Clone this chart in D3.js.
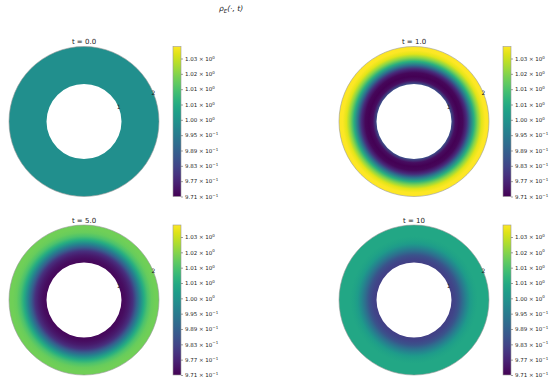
<!DOCTYPE html>
<html><head><meta charset="utf-8">
<script src="https://cdn.jsdelivr.net/npm/d3@7"></script>
<style>body{margin:0;background:#fff}svg{display:block;font-family:"DejaVu Sans",sans-serif}</style>
</head><body>
<svg id="c" width="550" height="385"></svg>
<script>
// ---- data ----
const panelTitles = ["t = 0.0", "t = 1.0", "t = 5.0", "t = 10"];
const radii = [1.0, 1.1, 1.2, 1.3, 1.4, 1.5, 1.6, 1.7, 1.8, 1.9, 2.0];
const rhoT0  = [1.000, 1.000, 1.000, 1.000, 1.000, 1.000, 1.000, 1.000, 1.000, 1.000, 1.000];
const rhoT1  = [0.985, 0.973, 0.971, 0.972, 0.978, 0.993, 1.008, 1.019, 1.027, 1.030, 1.030];
const rhoT5  = [0.972, 0.973, 0.975, 0.979, 0.988, 0.998, 1.007, 1.013, 1.016, 1.017, 1.017];
const rhoT10 = [0.982, 0.983, 0.986, 0.992, 0.998, 1.003, 1.005, 1.006, 1.006, 1.006, 1.006];
const colorMin = 0.971, colorMax = 1.0297;
const tickValues = [0.971, 0.977, 0.983, 0.989, 0.995, 1.001, 1.007, 1.013, 1.019, 1.025];
const tickMantissa = ["9.71", "9.77", "9.83", "9.89", "9.95", "1.00", "1.01", "1.01", "1.02", "1.03"];
const tickExponent = ["\u22121", "\u22121", "\u22121", "\u22121", "\u22121", "0", "0", "0", "0", "0"];
const radialTicks = [1, 2];

const series = [rhoT0, rhoT1, rhoT5, rhoT10];
const centers = [[84, 121.5], [414, 121.5], [84, 300], [414, 300]];

const svg = d3.select("#c");
const defs = svg.append("defs");
const color = d3.scaleSequential(d3.interpolateViridis).domain([colorMin, colorMax]).clamp(true);
const R = 75;
const rScale = d3.scaleLinear().domain([0, 2]).range([0, R]);

// suptitle
const st = svg.append("text").attr("x", 231).attr("y", 11).attr("text-anchor", "middle")
  .attr("font-size", 7.5).attr("font-style", "italic").attr("fill", "#222");
st.append("tspan").text("\u03C1");
st.append("tspan").attr("font-size", 5.5).attr("dy", 1.8).text("E");
st.append("tspan").attr("dy", -1.8).text("(\u00B7, t)");

// colorbar gradient (shared)
const cg = defs.append("linearGradient").attr("id", "cbar").attr("x1", 0).attr("y1", 1).attr("x2", 0).attr("y2", 0);
d3.range(0, 1.0001, 0.05).forEach(f => cg.append("stop").attr("offset", f).attr("stop-color", d3.interpolateViridis(f)));

series.forEach((vals, i) => {
  const [cx, cy] = centers[i];
  const g = svg.append("g").attr("transform", `translate(${cx},${cy})`);
  const gid = "rg" + i;
  const rg = defs.append("radialGradient").attr("id", gid)
    .attr("gradientUnits", "userSpaceOnUse").attr("cx", 0).attr("cy", 0).attr("r", rScale(2));
  radii.forEach((r, k) => rg.append("stop").attr("offset", rScale(r) / rScale(2)).attr("stop-color", color(vals[k])));
  const arc = d3.arc().innerRadius(rScale(1)).outerRadius(rScale(2)).startAngle(0).endAngle(2 * Math.PI);
  g.append("path").attr("d", arc()).attr("fill", `url(#${gid})`);
  g.append("circle").attr("r", rScale(2)).attr("fill", "none").attr("stroke", "#999").attr("stroke-width", 0.6);
  // radial tick labels
  const ang = 22.5 * Math.PI / 180;
  radialTicks.forEach(t => {
    g.append("text").attr("x", rScale(t) * Math.cos(ang)).attr("y", -rScale(t) * Math.sin(ang))
      .attr("font-size", 6).attr("text-anchor", "middle").attr("dy", "0.35em").attr("fill", "#222").text(t);
  });
  // title
  svg.append("text").attr("x", cx).attr("y", cy - R - 2.5).attr("text-anchor", "middle")
    .attr("font-size", 7).attr("fill", "#222").text(panelTitles[i]);
  // colorbar
  const bx = cx + 89, bw = 8;
  const y = d3.scaleLinear().domain([colorMin, colorMax]).range([cy + R, cy - R]);
  svg.append("rect").attr("x", bx).attr("y", cy - R).attr("width", bw).attr("height", 2 * R)
    .attr("fill", "url(#cbar)").attr("stroke", "#999").attr("stroke-width", 0.6);
  const ax = svg.append("g").attr("transform", `translate(${bx + bw},0)`)
    .call(d3.axisRight(y).tickValues(tickValues).tickSize(2).tickPadding(2).tickFormat(""));
  ax.select(".domain").remove();
  ax.selectAll(".tick line").attr("stroke", "#444").attr("stroke-width", 0.5);
  ax.selectAll(".tick text").each(function(d, k) {
    const t = d3.select(this).attr("font-size", 5.5).attr("font-family", "DejaVu Sans").attr("fill", "#222");
    t.append("tspan").text(tickMantissa[k] + " \u00D7 10");
    t.append("tspan").attr("dy", -2.2).attr("font-size", 4).text(tickExponent[k]);
  });
});
</script>
</body></html>
